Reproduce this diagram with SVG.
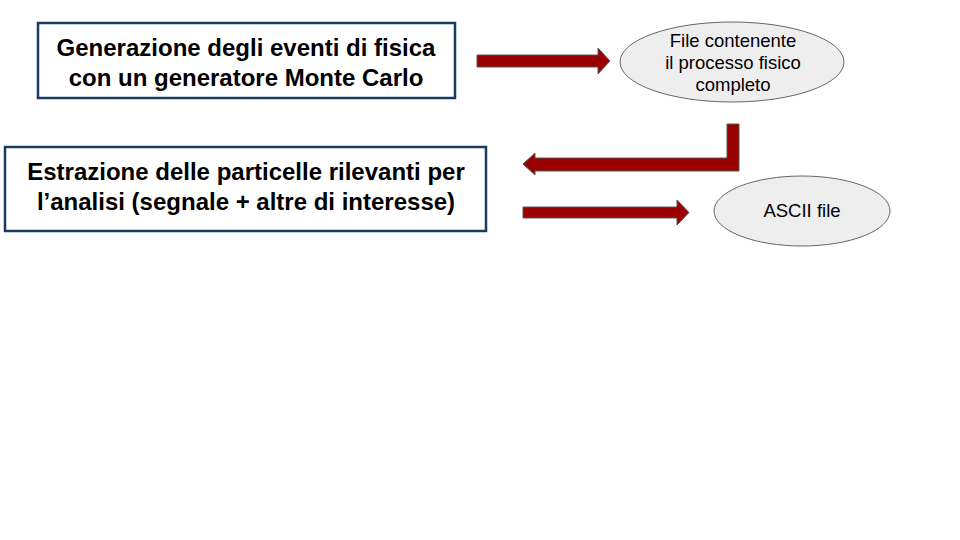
<svg xmlns="http://www.w3.org/2000/svg" width="960" height="540" viewBox="0 0 960 540">
<style>
.box{fill:#fff;stroke:#1c3a63;stroke-width:2.5}
.ell{fill:#eeeeee;stroke:#666;stroke-width:1}
.arr{fill:#990000;stroke:#595959;stroke-width:1}
.bt{font-family:"Liberation Sans",Arial,sans-serif;font-weight:bold;font-size:24px;fill:#000;text-anchor:middle}
.et{font-family:"Liberation Sans",Arial,sans-serif;font-size:18.5px;fill:#000;text-anchor:middle}
</style>
<rect width="960" height="540" fill="#fff"/>
<g id="gen">
<rect class="box" x="38" y="23" width="417" height="75"/>
<text class="bt" x="246" y="56">Generazione degli eventi di fisica</text>
<text class="bt" x="246" y="86">con un generatore Monte Carlo</text>
</g>
<g id="file">
<ellipse class="ell" cx="732" cy="62" rx="112" ry="40"/>
<text class="et" x="733" y="47">File contenente</text>
<text class="et" x="733" y="69">il processo fisico</text>
<text class="et" x="733" y="91">completo</text>
</g>
<g id="estr">
<rect class="box" x="5" y="147" width="481" height="84"/>
<text class="bt" x="246" y="180">Estrazione delle particelle rilevanti per</text>
<text class="bt" x="246" y="210">l’analisi (segnale + altre di interesse)</text>
</g>
<g id="ascii">
<ellipse class="ell" cx="802" cy="211" rx="88" ry="35"/>
<text class="et" x="802" y="217">ASCII file</text>
</g>
<g id="connectors">
<path class="arr" d="M477,55 L598,55 L598,48 L610,61 L598,74 L598,67 L477,67 Z"/>
<path class="arr" d="M739,124 L739,171 L535,171 L535,175 L523,164 L535,153 L535,158 L727,158 L727,124 Z"/>
<path class="arr" d="M523,207 L677,207 L677,200 L689,212.5 L677,225 L677,218 L523,218 Z"/>
</g>
</svg>
